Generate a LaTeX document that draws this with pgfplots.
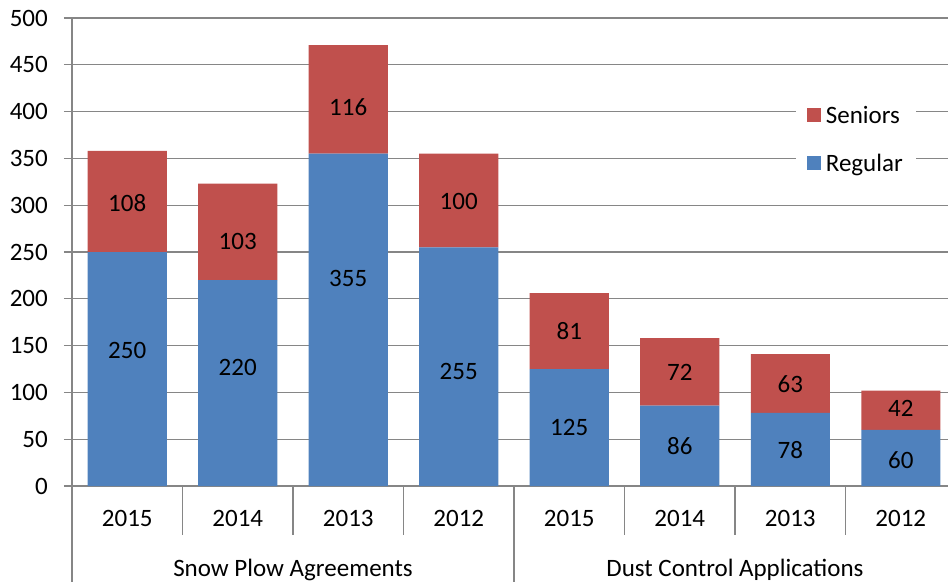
\documentclass[border=0pt]{standalone}
\usepackage{fontspec}
\setmainfont{Carlito}
\usepackage{pgfplots}
\pgfplotsset{compat=1.18}
\usepackage{pgfplotstable}
\definecolor{reg}{HTML}{4F81BD}
\definecolor{sen}{HTML}{C0504D}
\definecolor{gridc}{HTML}{868686}
\pgfplotstableread{
x reg sen dyr dys
0 250 108 19 -2
1 220 103 16 -10
2 355 116 41 -8
3 255 100 -5 -1
4 125 81 0 0
5 86 72 0 -1
6 78 63 -1 -1
7 60 42 -2 2
}\datatable
\begin{document}
\begin{tikzpicture}[font=\fontsize{25}{30}\selectfont]
\useasboundingbox (-72pt,-96pt) rectangle (876pt,486pt);
\begin{axis}[
 at={(0,0)}, anchor=south west,
 scale only axis, width=884pt, height=468pt,
 clip=false,
 ybar stacked, bar width=0.715,
 xmin=-0.5, xmax=7.5, ymin=0, ymax=500,
 ytick={0,50,...,500},
 xtick={0,...,7},
 xticklabels={2015,2014,2013,2012,2015,2014,2013,2012},
 axis x line*=bottom, axis y line*=left,
 axis line style={gridc, line width=1.2pt, -},
 ymajorgrids, grid style={gridc, line width=1.2pt},
 tick align=outside, major tick length=8pt,
 ytick style={gridc, line width=1.2pt},
 xtick style={draw=none},
 /pgf/number format/assume math mode=true,
 yticklabel style={anchor=east, inner sep=0pt, xshift=-16pt},
 xticklabel style={anchor=base, inner sep=0pt, yshift=-32pt},
 legend style={at={(0.8186,0.840)}, anchor=north west, draw=none, fill=white, row sep=25pt, inner sep=11pt,
   /tikz/every odd column/.append style={column sep=3pt}},
 legend cell align=left,
 reverse legend,
 legend image code/.code={\fill[#1] (0pt,-7pt) rectangle (14pt,7pt);},
 nodes near coords, point meta=explicit,
 every node near coord/.append style={anchor=center, text=black},
]
\addplot[fill=reg, draw=none,
  visualization depends on={\thisrow{dyr} \as \dy},
  every node near coord/.append style={yshift=\dy pt}]
  table[x=x, y=reg, meta=reg] {\datatable};
\addlegendentry{Regular}
\addplot[fill=sen, draw=none,
  visualization depends on={\thisrow{dys} \as \dy},
  every node near coord/.append style={yshift=\dy pt}]
  table[x=x, y=sen, meta=sen] {\datatable};
\addlegendentry{Seniors}
\pgfplotsinvokeforeach{0.5,1.5,2.5,4.5,5.5,6.5}{
  \draw[gridc, line width=1.2pt] (axis cs:#1,0) -- ([yshift=-49pt]axis cs:#1,0);
}
\draw[gridc, line width=1.2pt] (axis cs:-0.5,0) -- ([yshift=-96pt]axis cs:-0.5,0);
\draw[gridc, line width=1.2pt] (axis cs:3.5,0) -- ([yshift=-96pt]axis cs:3.5,0);
\node[anchor=base, yshift=-90pt] at (axis cs:1.5,0) {Snow Plow Agreements};
\node[anchor=base, yshift=-90pt] at (axis cs:5.5,0) {Dust Control Applications};
\end{axis}
\end{tikzpicture}
\end{document}
